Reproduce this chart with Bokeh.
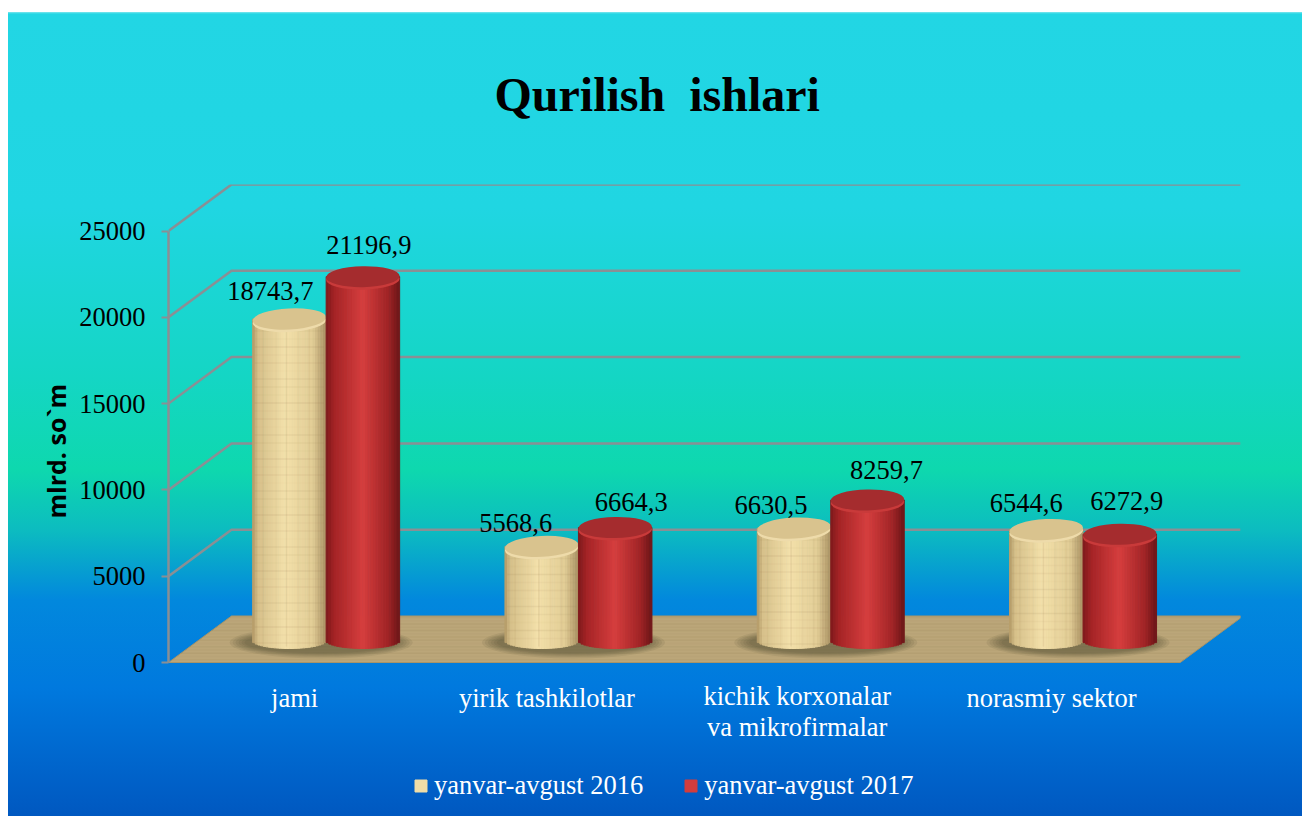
from bokeh.embed import file_html
from bokeh.resources import INLINE
from bokeh.plotting import figure
from bokeh.models import (ColumnDataSource, FixedTicker, LinearAxis, Legend, LegendItem, Range1d, Title)
from bokeh.core.properties import value
import numpy as np

title_text = "Qurilish \u00a0ishlari"
y_label = "mlrd. so`m"
categories = ["jami", "yirik tashkilotlar", "kichik korxonalar\nva mikrofirmalar", "norasmiy sektor"]
series_2016 = [18743.7, 5568.6, 6630.5, 6544.6]
series_2017 = [21196.9, 6664.3, 8259.7, 6272.9]
labels_2016 = ["18743,7", "5568,6", "6630,5", "6544,6"]
labels_2017 = ["21196,9", "6664,3", "8259,7", "6272,9"]
legend_names = ["yanvar-avgust 2016", "yanvar-avgust 2017"]
y_ticks = [0, 5000, 10000, 15000, 20000, 25000]

# layout constants (px)
W, H = 1302, 816
F_L, F_T, F_R, F_ZERO = 168, 184, 1240, 662
PITCH = 252.3
U = 25000 / 431.5      # value units per px
DX, DY = 63 / PITCH, 46.5 * U
XMAX = (F_R - F_L) / PITCH
YMAX = (F_ZERO - F_T) * U
YMIN = -(H - F_ZERO) * U
BASE = 20 * U
FONT = value("Liberation Serif")
TXT = "26.5px"

p = figure(width=W, height=H, output_backend="svg", toolbar_location=None,
           frame_width=F_R - F_L, frame_height=H - F_T,
           x_range=Range1d(0, XMAX), y_range=Range1d(YMIN, YMAX),
           x_axis_type=None, y_axis_type=None,
           min_border_left=F_L, min_border_right=W - F_R, min_border_top=F_T, min_border_bottom=0)
p.styles = {"background": "linear-gradient(to right, #ffffff 8px, transparent 8px), "
            "linear-gradient(to bottom, #ffffff 0px, #ffffff 12px, #7fe6ee 12px, #22d6e4 14px, "
            "#20d6e2 208px, #14d6c4 378px, #0ed8ae 470px, #0cbcc0 530px, #0288dd 600px, "
            "#0079de 688px, #005cc4 800px, #0058c0 816px)"}
p.border_fill_color = None
p.background_fill_color = None
p.outline_line_color = None
p.grid.visible = False

# title
p.title.text = title_text
p.title.text_font = "Liberation Serif"
p.title.text_font_size = "48px"
p.title.text_font_style = "bold"
p.title.text_color = "black"
p.title.align = "left"
p.title.offset = 326
p.title.standoff = 128

# y axis
ya = LinearAxis(ticker=FixedTicker(ticks=y_ticks), bounds=(0, 25000))
ya.axis_line_color = "#8a8f94"; ya.axis_line_width = 2.5
ya.major_tick_line_color = "#8a8f94"; ya.major_tick_line_width = 2
ya.major_tick_out = 7; ya.major_tick_in = 0
ya.minor_tick_line_color = None
ya.major_label_text_font = "Liberation Serif"
ya.major_label_text_font_size = TXT
ya.major_label_text_color = "black"
ya.major_label_standoff = 16
p.add_layout(ya, "left")

yt = Title(text=y_label, align="left", offset=298, standoff=8)
yt.text_font = "Open Sans"
yt.text_font_style = "bold"
yt.text_font_size = "25px"
yt.text_color = "black"
p.add_layout(yt, "left")

# back wall lines
xs = [[0, DX, XMAX] for v in y_ticks[1:]]
ys = [[v, v + DY, v + DY] for v in y_ticks[1:]]
p.multi_line(xs, ys, line_color="#8a8f94", line_width=2.5)

# floor
FLOOR_END = 4.01
p.patch([0, FLOOR_END, FLOOR_END + DX, DX], [0, 0, DY, DY], fill_color="#bba679", line_color="#a89468", line_width=1)
streak_alpha = [0.08, 0.04, 0.11, 0.05, 0.09, 0.03, 0.10]
fx, fy, fa = [], [], []
for j, f in enumerate(np.arange(0.06, 1.0, 0.07)):
    fx.append([DX * f, FLOOR_END + DX * f])
    fy.append([DY * f, DY * f])
    fa.append(streak_alpha[j % len(streak_alpha)])
p.multi_line(fx, fy, line_color="#7d6a42", line_alpha=fa, line_width=1.5)

# shadows
for grow, hgt in [(36, 32), (30, 29), (24, 27), (18, 25), (12, 23), (6, 21)]:
    p.ellipse([i + 0.5 + DX / 2 - 5 / PITCH for i in range(4)], [BASE] * 4,
              width=(147 + grow) / PITCH, height=hgt * U,
              fill_color="#3a3320", fill_alpha=0.09, line_color=None)

BAR_W = 73.5 / PITCH
N = 28
BOT_B = 8 * U
CAP_H = 21 * U


def lerp_stops(stops, t):
    ts = [s[0] for s in stops]
    out = [np.interp(t, ts, [s[1][c] for s in stops]) for c in range(3)]
    return "#%02x%02x%02x" % tuple(int(round(o)) for o in out)


tan_stops = [(0, (176, 150, 100)), (0.08, (214, 192, 138)), (0.45, (243, 224, 170)), (0.82, (226, 205, 150)), (1, (170, 146, 100))]
red_stops = [(0, (125, 26, 28)), (0.12, (165, 36, 38)), (0.5, (214, 62, 62)), (0.85, (160, 36, 38)), (1, (108, 22, 24))]


def draw_bars(vals, side, stops):
    centers = [i + 0.5 + DX / 2 + side * BAR_W / 2 for i in range(len(vals))]
    L, R, T, B, C = [], [], [], [], []
    for c, v in zip(centers, vals):
        for k in range(N):
            u0 = -1 + 2 * k / N
            u1 = -1 + 2 * (k + 1) / N
            um = (u0 + u1) / 2
            L.append(c + u0 * BAR_W / 2)
            R.append(c + u1 * BAR_W / 2)
            T.append(v + BASE)
            B.append(BASE + 2 * U - BOT_B * np.sqrt(1 - um ** 2))
            C.append(lerp_stops(stops, (um + 1) / 2))
    src = ColumnDataSource(dict(left=L, right=R, top=T, bottom=B, color=C))
    rend = p.quad(left="left", right="right", top="top", bottom="bottom", source=src,
                  fill_color="color", line_color="color", line_width=1)
    tops = [v + BASE for v in vals]
    return rend, centers, tops


def draw_caps(centers, tops, rim, cap, angle):
    p.ellipse(centers, [t - 2.5 * U for t in tops], width=BAR_W, height=CAP_H, angle=angle,
              fill_color=rim, line_color=None)
    p.ellipse(centers, tops, width=BAR_W, height=CAP_H, angle=angle, fill_color=cap, line_color=None)


r16, c16, t16 = draw_bars(series_2016, -1, tan_stops)
# woven texture on the tan cylinders
tex_alpha = [0.07, 0.03, 0.11, 0.05, 0.08, 0.02, 0.10]
tx, ty, ta = [], [], []
for c, t in zip(c16, t16):
    n = 0
    y = t - 12 * U
    while y > BASE - 2 * U:
        tx.append([c - BAR_W * 0.47, c + BAR_W * 0.47])
        ty.append([y, y])
        ta.append(tex_alpha[n % len(tex_alpha)])
        n += 1
        y -= 8 * U
    for j, f in enumerate([-0.36, -0.18, -0.04, 0.12, 0.27, 0.39]):
        tx.append([c + BAR_W * f, c + BAR_W * f])
        ty.append([t - 10 * U, BASE - 4 * U])
        ta.append(tex_alpha[j % len(tex_alpha)])
p.multi_line(tx, ty, line_color="#94784a", line_alpha=ta, line_width=1.5)
draw_caps(c16, t16, "#eedbaa", "#d9c38e", 0.05)

r17, c17, t17 = draw_bars(series_2017, 1, red_stops)
draw_caps(c17, t17, "#c93a3a", "#a52c2e", 0.02)

# data labels
dx_16, dy_16 = [-19, -26, -23, -20], [28, 23, 23, 27]
dx_17, dy_17 = [6, 16, 19, 7], [32, 25, 30, 33]
src_lab = ColumnDataSource(dict(x=c16 + c17, y=t16 + t17, t=labels_2016 + labels_2017,
                                dx=dx_16 + dx_17, dy=[-d for d in dy_16 + dy_17]))
p.text("x", "y", text="t", source=src_lab, x_offset="dx", y_offset="dy", text_font=FONT,
       text_font_size=TXT, text_color="black", text_align="center", text_baseline="middle")

# category labels, below the floor
cx, cy, ct, co = [], [], [], []
for i, c in enumerate(categories):
    lines = c.split("\n")
    for j, line in enumerate(lines):
        cx.append(i + 0.5 - (2 / PITCH if len(lines) > 1 else 0))
        cy.append(0)
        ct.append(line)
        co.append((33 + 31 * j) if len(lines) > 1 else 35)
src_cat = ColumnDataSource(dict(x=cx, y=cy, t=ct, o=co))
p.text("x", "y", text="t", source=src_cat, y_offset="o", text_font=FONT, text_font_size=TXT,
       text_color="white", text_align="center", text_baseline="middle")

# legend
legend = Legend(items=[LegendItem(label=legend_names[0], renderers=[r16], index=11),
                       LegendItem(label=legend_names[1], renderers=[r17], index=14)],
                orientation="horizontal", location=(245, 15))
legend.background_fill_alpha = 0
legend.border_line_color = None
legend.label_text_font = "Liberation Serif"
legend.label_text_font_size = TXT
legend.label_text_color = "white"
legend.glyph_width = 15
legend.glyph_height = 15
legend.label_standoff = 6
legend.spacing = 40
legend.padding = 0
legend.margin = 0
p.add_layout(legend, "center")

open("out.html", "w").write(file_html(p, INLINE))
